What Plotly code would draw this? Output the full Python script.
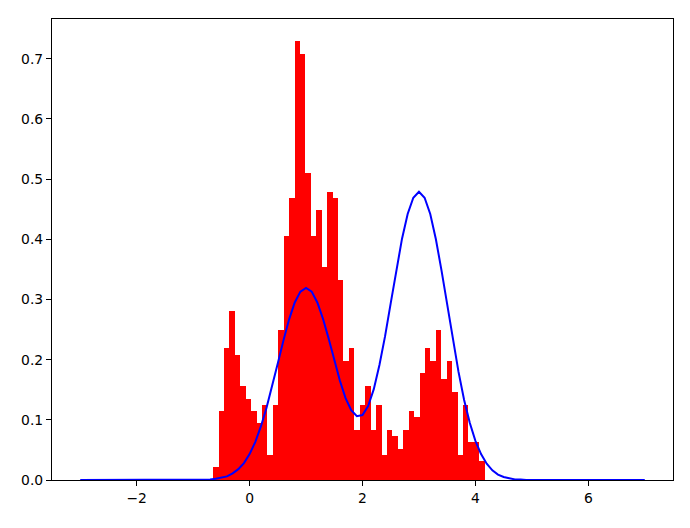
import numpy as np
import plotly.graph_objects as go

# histogram (density) - 50 bins between hist_start and hist_end
hist_start = -0.646
hist_end = 4.165
hist_density = [
    0.021, 0.115, 0.219, 0.281, 0.208, 0.156, 0.135, 0.115, 0.094, 0.125,
    0.042, 0.125, 0.250, 0.406, 0.469, 0.729, 0.708, 0.510, 0.406, 0.448,
    0.354, 0.479, 0.469, 0.333, 0.198, 0.219, 0.083, 0.125, 0.156, 0.083,
    0.125, 0.042, 0.083, 0.073, 0.052, 0.083, 0.115, 0.104, 0.177, 0.219,
    0.198, 0.250, 0.167, 0.198, 0.146, 0.042, 0.125, 0.063, 0.063, 0.031,
]

# density curve
curve_x = [
    -3.0, -1.0, -0.8, -0.7, -0.6, -0.5, -0.4, -0.3, -0.2, -0.1,
    0.0, 0.1, 0.2, 0.3, 0.4, 0.5, 0.6, 0.7, 0.8, 0.9,
    1.0, 1.1, 1.2, 1.3, 1.4, 1.5, 1.6, 1.7, 1.8, 1.9,
    2.0, 2.1, 2.2, 2.3, 2.4, 2.5, 2.6, 2.7, 2.8, 2.9,
    3.0, 3.1, 3.2, 3.3, 3.4, 3.5, 3.6, 3.7, 3.8, 3.9,
    4.0, 4.1, 4.2, 4.3, 4.4, 4.5, 4.6, 4.7, 4.8, 4.9,
    7.0,
]
curve_y = [
    0.0, 0.0, 0.000, 0.001, 0.002, 0.004, 0.006, 0.011, 0.018, 0.028,
    0.043, 0.063, 0.089, 0.120, 0.155, 0.194, 0.232, 0.267, 0.295, 0.313,
    0.319, 0.313, 0.295, 0.268, 0.235, 0.199, 0.165, 0.136, 0.116, 0.106,
    0.108, 0.123, 0.151, 0.191, 0.239, 0.294, 0.350, 0.401, 0.442, 0.469,
    0.479, 0.469, 0.442, 0.400, 0.348, 0.290, 0.233, 0.180, 0.133, 0.095,
    0.065, 0.043, 0.027, 0.016, 0.009, 0.005, 0.003, 0.001, 0.001, 0.000,
    0.0,
]

x_ticks = [-2, 0, 2, 4, 6]
y_ticks = [0.0, 0.1, 0.2, 0.3, 0.4, 0.5, 0.6, 0.7]

edges = np.linspace(hist_start, hist_end, len(hist_density) + 1)
centers = (edges[:-1] + edges[1:]) / 2
bin_w = edges[1] - edges[0]

fig = go.Figure()

fig.add_trace(go.Bar(
    x=centers,
    y=hist_density,
    width=bin_w,
    marker=dict(color="red", line=dict(width=0)),
    showlegend=False,
))

fig.add_trace(go.Scatter(
    x=curve_x,
    y=curve_y,
    mode="lines",
    line=dict(color="blue", width=2),
    showlegend=False,
))

axis_style = dict(
    showgrid=False,
    zeroline=False,
    showline=True,
    mirror=True,
    linecolor="black",
    linewidth=1.1,
    ticks="outside",
    ticklen=5,
    tickwidth=1.1,
    tickcolor="black",
    tickfont=dict(family="DejaVu Sans", size=13.9, color="black"),
    layer="below traces",
)

# the page adds an 8px body margin, so the margins are shifted to keep the
# plot box where it sits in the reference
fig.update_layout(
    width=690,
    height=528,
    margin=dict(l=44, r=25, t=11, b=56),
    plot_bgcolor="white",
    paper_bgcolor="white",
    bargap=0,
    xaxis=dict(range=[-3.5, 7.5], tickvals=x_ticks, **axis_style),
    yaxis=dict(range=[0, 0.766], tickvals=y_ticks, tickformat=".1f", **axis_style),
)

fig.write_html("out.html")
